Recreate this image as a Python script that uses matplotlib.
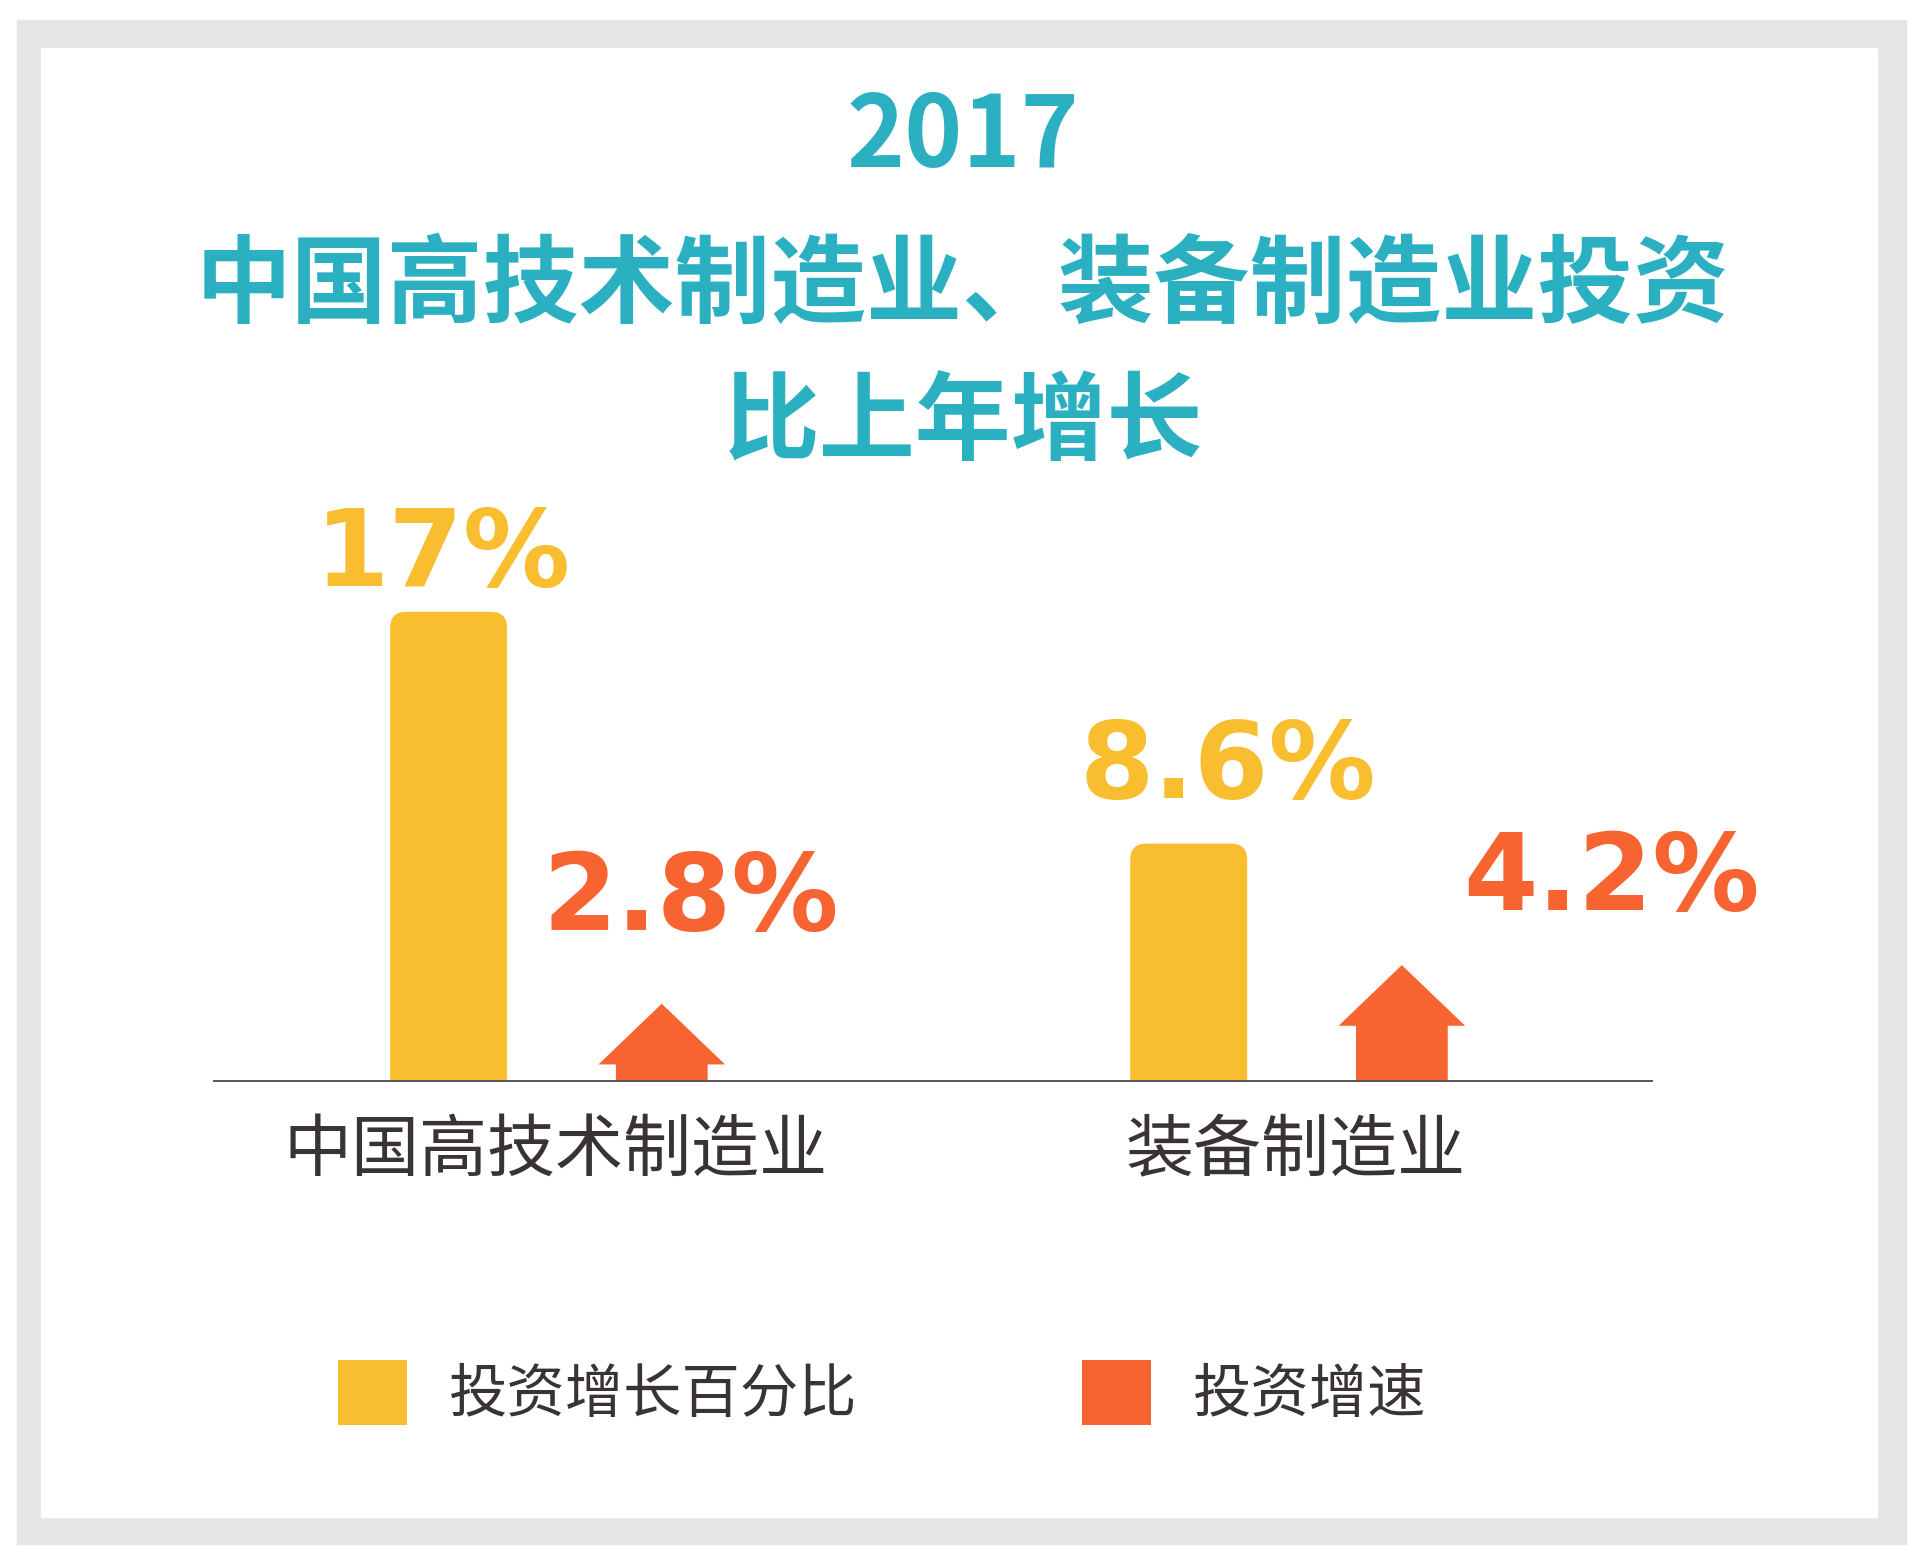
import matplotlib
matplotlib.use("Agg")
import matplotlib.pyplot as plt
from matplotlib.patches import FancyBboxPatch, FancyArrow, Rectangle, Patch

plt.rcParams['font.family'] = ['Noto Sans CJK SC', 'DejaVu Sans']

# 数据
categories = ["中国高技术制造业", "装备制造业"]
pct_share = [17, 8.6]        # 投资增长百分比
growth_rate = [2.8, 4.2]     # 投资增速
share_labels = ["17%", "8.6%"]
rate_labels = ["2.8%", "4.2%"]
legend_names = ["投资增长百分比", "投资增速"]

yellow = "#F8BE30"
orange = "#F76331"
teal = "#2BB0C2"
dark = "#3A3333"
gray = "#E5E5E7"

W, H = 1920, 1564
fig = plt.figure(figsize=(W / 100, H / 100), dpi=100)

# 外框
fig.patches.append(Rectangle((17 / W, 1 - 1544 / H), (1906 - 17) / W, (1544 - 20) / H,
                             transform=fig.transFigure, color=gray, zorder=-2))
fig.patches.append(Rectangle((41 / W, 1 - 1517 / H), (1877 - 41) / W, (1517 - 48) / H,
                             transform=fig.transFigure, color="white", zorder=-1))

# 标题
fig.text(963 / W, 1 - 138 / H, "2017", ha="center", va="center", fontsize=71,
         fontweight="black", color=teal)
fig.text(963 / W, 1 - 287 / H, "中国高技术制造业、装备制造业投资", ha="center", va="center",
         fontsize=69, fontweight="bold", color=teal)
fig.text(963 / W, 1 - 424 / H, "比上年增长", ha="center", va="center",
         fontsize=69, fontweight="bold", color=teal)

# 坐标轴: y=0 在像素 1081, 每 1% 约 27.6 像素
px_per_pct = 27.6
ax_left, ax_right = 214, 1652
ax_bottom = 1081
ylim_top = 20
ax = fig.add_axes([ax_left / W, 1 - ax_bottom / H, (ax_right - ax_left) / W,
                   ylim_top * px_per_pct / H])
ax.set_xlim(-0.461, 1.482)
ax.set_ylim(0, ylim_top)
ax.patch.set_alpha(0)

px_per_x = (ax_right - ax_left) / (1.482 + 0.461)
offset = 0.144
bar_w = 0.158

for i, v in enumerate(pct_share):
    x0 = i - offset - bar_w / 2
    r = 16 / px_per_x
    box = FancyBboxPatch((x0, -2), bar_w, v + 2,
                         boxstyle=f"round,pad=0,rounding_size={r}",
                         mutation_aspect=px_per_x / px_per_pct,
                         color=yellow, lw=0, clip_on=True)
    ax.add_patch(box)

for i, v in enumerate(growth_rate):
    arr = FancyArrow(i + offset, 0, 0, v, width=0.124, head_width=0.171,
                     head_length=2.2, length_includes_head=True,
                     color=orange, lw=0)
    ax.add_patch(arr)

# 数值标签
num_font = dict(family="DejaVu Sans", fontweight="bold", fontsize=77)
share_off = [(-6, 55), (39, 75)]
rate_off = [(29, 103), (210, 85)]
for i in range(2):
    ax.annotate(share_labels[i], xy=(i - offset, pct_share[i]), xytext=share_off[i],
                textcoords="offset pixels", ha="center", va="center",
                color=yellow, annotation_clip=False, **num_font)
    ax.annotate(rate_labels[i], xy=(i + offset, growth_rate[i]), xytext=rate_off[i],
                textcoords="offset pixels", ha="center", va="center",
                color=orange, annotation_clip=False, **num_font)

for s in ["top", "right", "left"]:
    ax.spines[s].set_visible(False)
ax.spines["bottom"].set_color("#555555")
ax.spines["bottom"].set_linewidth(1.4)
ax.set_yticks([])
ax.set_xticks([0, 1])
ax.set_xticklabels(categories, fontsize=49, color=dark, fontweight="medium")
ax.tick_params(axis="x", length=0, pad=26)

# 图例
handles = [Patch(color=yellow, lw=0), Patch(color=orange, lw=0)]
fig.legend(handles, legend_names, loc="center left", bbox_to_anchor=(338 / W, 1 - 1393 / H),
           ncol=2, frameon=False, prop=dict(size=42, weight="medium"),
           handlelength=1.19, handleheight=1.35,
           handletextpad=0.72, columnspacing=3.84, borderpad=0, borderaxespad=0,
           labelcolor=dark)

fig.savefig("out.png", dpi=100)
